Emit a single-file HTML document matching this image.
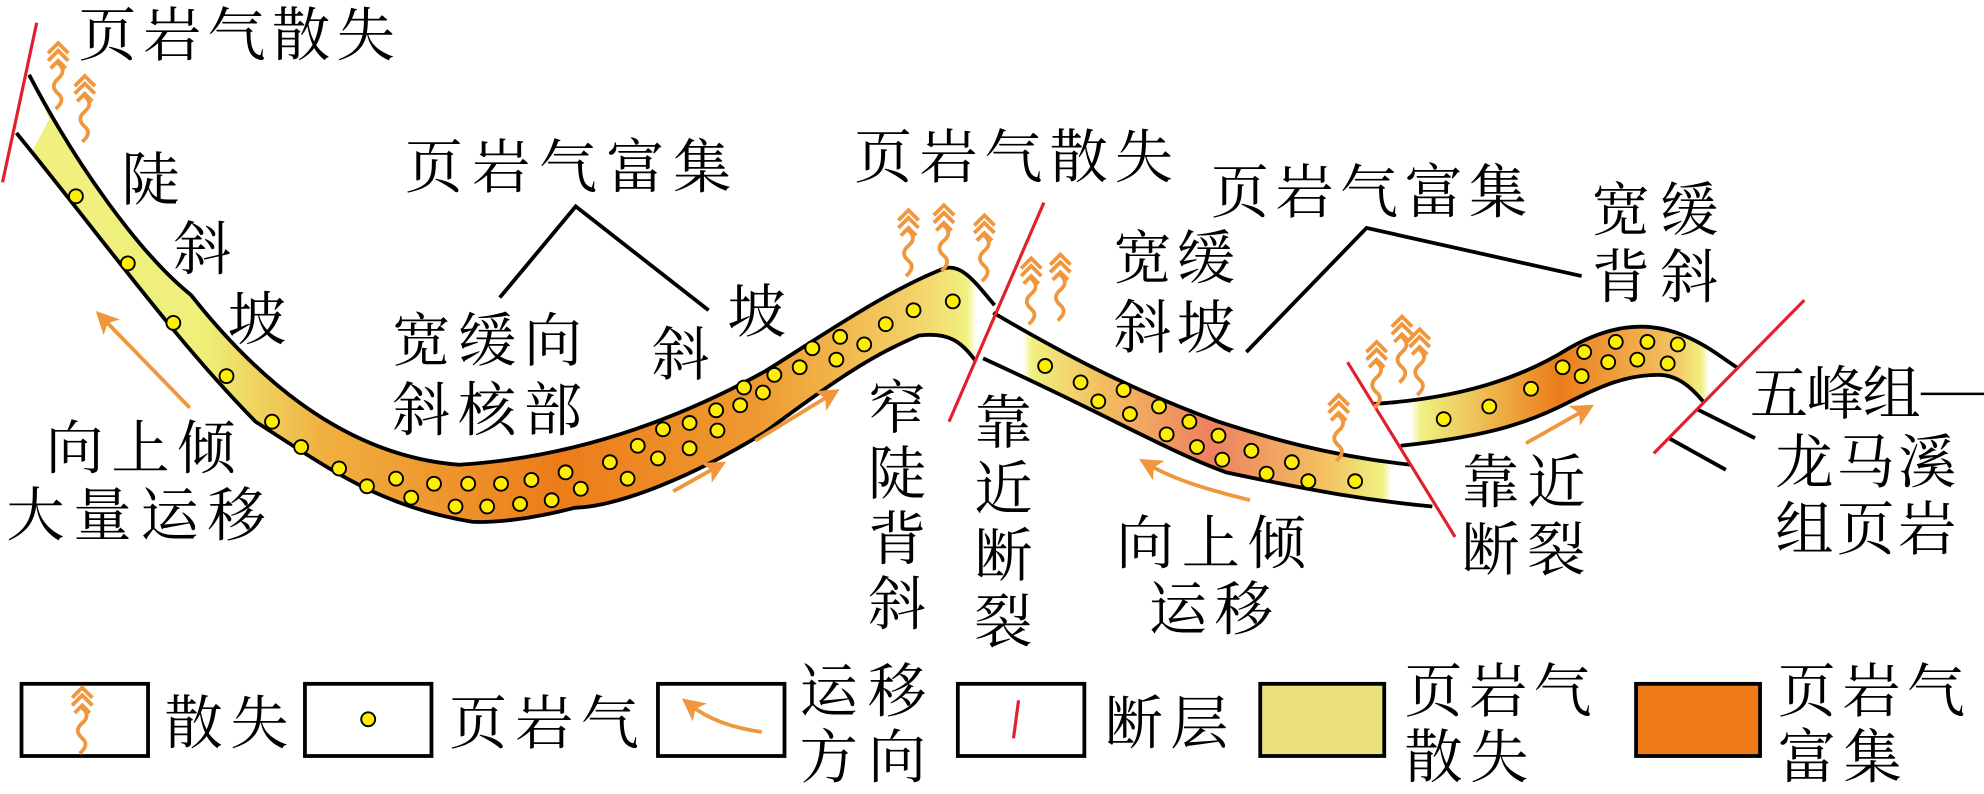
<!DOCTYPE html>
<html><head><meta charset="utf-8"><style>
html,body{margin:0;padding:0;background:#fff}
svg{display:block}
text{font-family:"Liberation Serif","Noto Serif CJK SC","Noto Sans CJK SC",serif;font-size:46px;fill:#000}
</style></head><body>
<svg width="1984" height="794" viewBox="0 0 1568 627" preserveAspectRatio="none" xmlns="http://www.w3.org/2000/svg">
<defs>
<linearGradient id="g1" x1="0" y1="0" x2="800" y2="0" gradientUnits="userSpaceOnUse">
<stop offset="0" stop-color="#f0f080"/><stop offset="0.2" stop-color="#eef07a"/><stop offset="0.32" stop-color="#f0b040"/><stop offset="0.55" stop-color="#ec7c1a"/><stop offset="0.75" stop-color="#ee9a30"/><stop offset="0.9" stop-color="#f3d068"/><stop offset="0.955" stop-color="#f0f080"/><stop offset="0.965" stop-color="#fff"/>
</linearGradient>
<linearGradient id="g2" x1="780" y1="0" x2="1135" y2="0" gradientUnits="userSpaceOnUse">
<stop offset="0" stop-color="#fff"/><stop offset="0.08" stop-color="#fff"/><stop offset="0.1" stop-color="#f0f080"/><stop offset="0.25" stop-color="#f3c060"/><stop offset="0.5" stop-color="#ec8060"/><stop offset="0.75" stop-color="#f3c060"/><stop offset="0.88" stop-color="#f0f080"/><stop offset="0.9" stop-color="#fff"/><stop offset="1" stop-color="#fff"/>
</linearGradient>
<linearGradient id="g3" x1="1085" y1="0" x2="1380" y2="0" gradientUnits="userSpaceOnUse">
<stop offset="0" stop-color="#fff"/><stop offset="0.1" stop-color="#fff"/><stop offset="0.13" stop-color="#f0f080"/><stop offset="0.5" stop-color="#ec7c1a"/><stop offset="0.8" stop-color="#f3c060"/><stop offset="0.88" stop-color="#f0f080"/><stop offset="0.9" stop-color="#fff"/>
</linearGradient>
<g id="sq" fill="none" stroke="#f0963c" stroke-width="3">
<path d="M-8,2 L0,-6 L8,2 M-8,8 L0,0 L8,8 M-6,14 L0,8 L6,14"/>
<path d="M0,10 q7,6 0,12 q-7,6 0,12 q6,5 -2,12"/>
</g>
<marker id="ah" markerWidth="6" markerHeight="6" refX="3" refY="3" orient="auto" markerUnits="strokeWidth"><path d="M0,0 L6,3 L0,6 L1.5,3z" fill="#f0963c"/></marker>
</defs>

<g stroke="#000" stroke-width="3" fill="#fff">
<rect x="17" y="540" width="100" height="57"/>
<rect x="241" y="540" width="100" height="57"/>
<rect x="520" y="540" width="100" height="57"/>
<rect x="757" y="540" width="100" height="57" />
<rect x="996" y="540" width="98" height="57" fill="#ece07a"/>
<rect x="1293" y="540" width="98" height="57" fill="#ee7b17"/>
</g>

<path d="M23,59 C60,130 110,200 151,233 C200,295 270,360 363,367 C440,362 520,340 605,293 C650,265 700,230 746,212 C760,208 770,222 786,241 L771,285 C760,270 750,262 726,265 C690,280 660,300 605,341 C550,375 490,400 454,401 C420,410 390,413 373,412 C300,400 260,370 202,333 C140,270 90,200 13,105 Z" fill="url(#g1)"/>
<polygon points="23,59 39,94 24,122 13,105" fill="#fff"/>
<path d="M23,59 C60,130 110,200 151,233 C200,295 270,360 363,367 C440,362 520,340 605,293 C650,265 700,230 746,212 C760,208 770,222 786,241" fill="none" stroke="#000" stroke-width="3"/>
<path d="M771,285 C760,270 750,262 726,265 C690,280 660,300 605,341 C550,375 490,400 454,401 C420,410 390,413 373,412 C300,400 260,370 202,333 C140,270 90,200 13,105" fill="none" stroke="#000" stroke-width="3"/>
<path d="M785,247 C850,285 900,310 963,333 C1000,345 1050,360 1115,367 L1132,400 C1080,395 1040,388 969,373 C920,355 880,330 777,283 Z" fill="url(#g2)"/>
<path d="M785,247 C850,285 900,310 963,333 C1000,345 1050,360 1115,367" fill="none" stroke="#000" stroke-width="3"/>
<path d="M1132,400 C1080,395 1040,388 969,373 C920,355 880,330 777,283" fill="none" stroke="#000" stroke-width="3"/>
<path d="M1085,319 C1150,315 1200,300 1240,275 C1270,258 1300,252 1331,265 C1350,273 1360,282 1374,291 L1346,317 C1336,305 1325,296 1311,296 C1285,296 1265,305 1241,317 C1210,333 1180,344 1107,352 Z" fill="url(#g3)"/>
<path d="M1085,319 C1150,315 1200,300 1240,275 C1270,258 1300,252 1331,265 C1350,273 1360,282 1374,291" fill="none" stroke="#000" stroke-width="3"/>
<path d="M1346,317 C1336,305 1325,296 1311,296 C1285,296 1265,305 1241,317 C1210,333 1180,344 1107,352" fill="none" stroke="#000" stroke-width="3"/>
<path d="M1341,323 L1387,346 M1319,346 L1364,371" stroke="#000" stroke-width="3"/>
<path d="M1518,311 L1568,311" stroke="#000" stroke-width="2"/>

<g stroke="#e0202a" stroke-width="2.5">
<line x1="29" y1="18" x2="2" y2="144"/>
<line x1="825" y1="160" x2="750" y2="333"/>
<line x1="1065" y1="286" x2="1150" y2="424"/>
<line x1="1426" y1="237" x2="1307" y2="358"/>
<line x1="805" y1="553" x2="801" y2="583"/>
</g>

<g fill="#ffee00" stroke="#000" stroke-width="1.5">
<circle cx="60" cy="155" r="5.5"/><circle cx="101" cy="208" r="5.5"/><circle cx="137" cy="255" r="5.5"/><circle cx="179" cy="297" r="5.5"/><circle cx="215" cy="333" r="5.5"/><circle cx="238" cy="353" r="5.5"/><circle cx="268" cy="370" r="5.5"/><circle cx="290" cy="384" r="5.5"/><circle cx="313" cy="378" r="5.5"/><circle cx="325" cy="393" r="5.5"/><circle cx="343" cy="382" r="5.5"/><circle cx="360" cy="400" r="5.5"/><circle cx="370" cy="382" r="5.5"/><circle cx="385" cy="400" r="5.5"/><circle cx="396" cy="382" r="5.5"/><circle cx="411" cy="398" r="5.5"/><circle cx="420" cy="379" r="5.5"/><circle cx="436" cy="395" r="5.5"/><circle cx="447" cy="373" r="5.5"/><circle cx="459" cy="386" r="5.5"/><circle cx="482" cy="365" r="5.5"/><circle cx="496" cy="378" r="5.5"/><circle cx="504" cy="352" r="5.5"/><circle cx="520" cy="362" r="5.5"/><circle cx="524" cy="339" r="5.5"/><circle cx="545" cy="354" r="5.5"/><circle cx="545" cy="334" r="5.5"/><circle cx="567" cy="340" r="5.5"/><circle cx="566" cy="324" r="5.5"/><circle cx="585" cy="320" r="5.5"/><circle cx="588" cy="306" r="5.5"/><circle cx="603" cy="310" r="5.5"/><circle cx="612" cy="296" r="5.5"/><circle cx="632" cy="290" r="5.5"/><circle cx="642" cy="275" r="5.5"/><circle cx="661" cy="284" r="5.5"/><circle cx="664" cy="266" r="5.5"/><circle cx="683" cy="272" r="5.5"/><circle cx="700" cy="256" r="5.5"/><circle cx="722" cy="245" r="5.5"/><circle cx="753" cy="238" r="5.5"/>
<circle cx="826" cy="289" r="5.5"/><circle cx="854" cy="302" r="5.5"/><circle cx="868" cy="317" r="5.5"/><circle cx="888" cy="308" r="5.5"/><circle cx="893" cy="327" r="5.5"/><circle cx="916" cy="321" r="5.5"/><circle cx="922" cy="343" r="5.5"/><circle cx="940" cy="333" r="5.5"/><circle cx="946" cy="353" r="5.5"/><circle cx="963" cy="344" r="5.5"/><circle cx="966" cy="363" r="5.5"/><circle cx="989" cy="356" r="5.5"/><circle cx="1001" cy="374" r="5.5"/><circle cx="1021" cy="365" r="5.5"/><circle cx="1034" cy="380" r="5.5"/><circle cx="1071" cy="380" r="5.5"/>
<circle cx="1141" cy="331" r="5.5"/><circle cx="1177" cy="321" r="5.5"/><circle cx="1210" cy="307" r="5.5"/><circle cx="1235" cy="290" r="5.5"/><circle cx="1250" cy="297" r="5.5"/><circle cx="1252" cy="278" r="5.5"/><circle cx="1271" cy="286" r="5.5"/><circle cx="1277" cy="270" r="5.5"/><circle cx="1294" cy="284" r="5.5"/><circle cx="1302" cy="270" r="5.5"/><circle cx="1318" cy="287" r="5.5"/><circle cx="1326" cy="272" r="5.5"/>
<circle cx="291" cy="568" r="5.5"/>
</g>

<g stroke="#f0963c" stroke-width="3" fill="none" marker-end="url(#ah)">
<line x1="150" y1="322" x2="82" y2="252"/>
<line x1="532" y1="388" x2="566" y2="369"/>
<line x1="597" y1="348" x2="656" y2="312"/>
<path d="M988,395 C960,388 930,380 908,367"/>
<line x1="1206" y1="350" x2="1252" y2="324"/>
<path d="M602,578 C580,575 560,568 546,557"/>
</g>

<use href="#sq" x="46" y="40"/><use href="#sq" x="67" y="66"/>
<use href="#sq" x="718" y="172"/><use href="#sq" x="746" y="168"/><use href="#sq" x="778" y="176"/>
<use href="#sq" x="815" y="210"/><use href="#sq" x="838" y="207"/>
<use href="#sq" x="1058" y="318"/><use href="#sq" x="1088" y="276"/><use href="#sq" x="1108" y="256"/><use href="#sq" x="1122" y="266"/>
<use href="#sq" x="65" y="549"/>

<path d="M395,235 L455,163 L560,245" fill="none" stroke="#000" stroke-width="3"/>
<path d="M985,278 L1080,180 L1250,218" fill="none" stroke="#000" stroke-width="3"/>

<text x="62" y="44" textLength="250">页岩气散失</text>
<text x="96" y="158">陡</text><text x="137" y="213">斜</text><text x="180" y="268">坡</text>
<text x="320" y="148" textLength="258">页岩气富集</text>
<text x="310" y="285" textLength="150">宽缓向</text><text x="310" y="340" textLength="150">斜核部</text>
<text x="515" y="296">斜</text><text x="575" y="262">坡</text>
<text x="675" y="140" textLength="252">页岩气散失</text>
<text x="957" y="168" textLength="250">页岩气富集</text>
<text x="880" y="220" textLength="96">宽缓</text><text x="880" y="275" textLength="96">斜坡</text>
<text x="1258" y="182" textLength="100">宽缓</text><text x="1258" y="235" textLength="100">背斜</text>
<text x="686" y="338">窄</text><text x="686" y="390">陡</text><text x="686" y="442">背</text><text x="686" y="493">斜</text>
<text x="770" y="350">靠</text><text x="770" y="402">近</text><text x="770" y="455">断</text><text x="770" y="507">裂</text>
<text x="36" y="370" textLength="150">向上倾</text><text x="5" y="423" textLength="205">大量运移</text>
<text x="882" y="445" textLength="150">向上倾</text><text x="908" y="497" textLength="98">运移</text>
<text x="1155" y="397" textLength="98">靠近</text><text x="1155" y="450" textLength="98">断裂</text>
<text x="1383" y="327" textLength="135">五峰组</text>
<text x="1403" y="381" textLength="143">龙马溪</text><text x="1403" y="434" textLength="143">组页岩</text>

<text x="130" y="587" textLength="98">散失</text>
<text x="355" y="587" textLength="150">页岩气</text>
<text x="632" y="562" textLength="100">运移</text><text x="632" y="614" textLength="100">方向</text>
<text x="873" y="587" textLength="98">断层</text>
<text x="1110" y="562" textLength="148">页岩气</text><text x="1110" y="614" textLength="98">散失</text>
<text x="1405" y="562" textLength="148">页岩气</text><text x="1405" y="614" textLength="98">富集</text>
</svg>
</body></html>
